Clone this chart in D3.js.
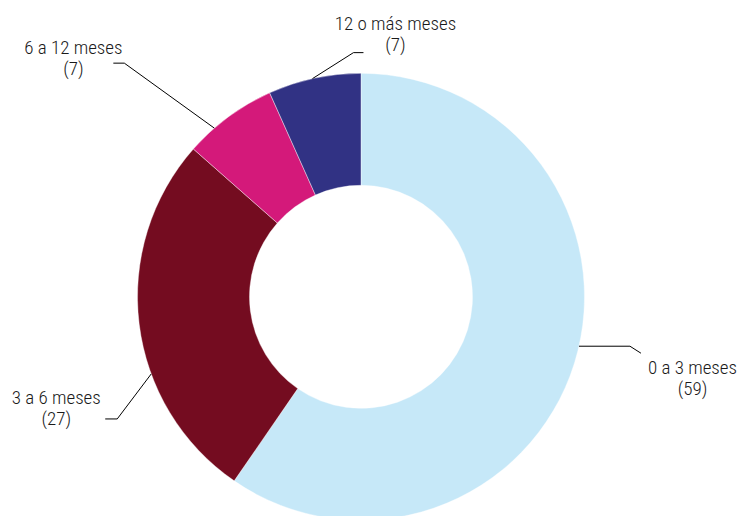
<!DOCTYPE html>
<html><head><meta charset="utf-8">
<script src="https://cdn.jsdelivr.net/npm/d3@7"></script>
<style>
html,body{margin:0;padding:0;background:#fff;}
svg{display:block;}
text{font-family:"Roboto Condensed","Liberation Sans Narrow",sans-serif;font-size:19px;font-weight:300;fill:#1a1a1a;}
</style></head>
<body><svg id="c" width="741" height="516"></svg>
<script>
const categories = ["0 a 3 meses", "3 a 6 meses", "6 a 12 meses", "12 o más meses"];
// values printed in the labels
const values = [59, 27, 7, 7];
// slice sizes (percent of circle)
const shares = [59.6, 26.9, 6.8, 6.7];
const colors = ["#c6e8f8", "#740c20", "#d4197a", "#313284"];

// leader-line layout (positions only)
const layout = [
  {frac:0.479, d1:[51,0],   d2:[11,7],  t:[51.5,21]},
  {frac:0.364, d1:[-34,45], d2:[-12,0], t:[-49,-15]},
  {frac:0.31,  d1:[-90,-65],d2:[-11,0], t:[-40,-9]},
  {frac:0.48,  d1:[41,-26], d2:[10,0],  t:[32,-23]}
];

const svg = d3.select("#c");
const cx = 361, cy = 296.8, R = 223.5, r = 111.5;
const g = svg.append("g").attr("transform", `translate(${cx},${cy})`);
const data = categories.map((c,i)=>({cat:c, v:values[i], s:shares[i], col:colors[i], lay:layout[i]}));
const pie = d3.pie().value(d=>d.s).sort(null);
const arcs = pie(data);
const arc = d3.arc().innerRadius(r).outerRadius(R);

g.selectAll("path.s").data(arcs).join("path")
  .attr("class","s")
  .attr("d", arc)
  .attr("fill", d=>d.data.col)
  .attr("stroke", "#fff").attr("stroke-width", 0.4);

arcs.forEach(a=>{
  const L = a.data.lay;
  const ang = a.startAngle + (a.endAngle - a.startAngle)*L.frac;
  const p0 = [R*Math.sin(ang), -R*Math.cos(ang)];
  const p1 = [p0[0]+L.d1[0], p0[1]+L.d1[1]];
  const p2 = [p1[0]+L.d2[0], p1[1]+L.d2[1]];
  g.append("polyline").attr("points", [p0,p1,p2].map(p=>p.join(",")).join(" "))
    .attr("fill","none").attr("stroke","#000").attr("stroke-width",1);
  const tx = p2[0]+L.t[0], ty = p2[1]+L.t[1];
  const t = g.append("text").attr("text-anchor","middle");
  t.append("tspan").attr("x",tx).attr("y",ty).text(a.data.cat);
  t.append("tspan").attr("x",tx).attr("y",ty+21).text("(" + a.data.v + ")");
});
</script></body></html>
